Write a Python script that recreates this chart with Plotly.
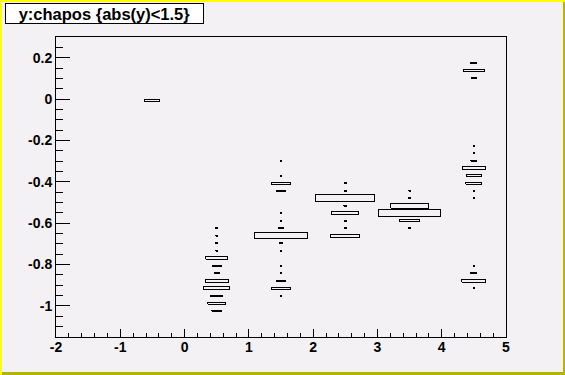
import math
import plotly.graph_objects as go

# ---------------- data (TH2 "box" histogram contents) ----------------
X_BIN = 1.0        # x bin width
Y_BIN = 0.03625    # y bin width
ZMAX = 1500        # histogram maximum used for box scaling

x_centers = [-0.5, 0.5, 1.5, 2.5, 3.5, 4.5]

y_m05 = [-0.008]
n_m05 = [82]

y_05 = [-0.624, -0.661, -0.697, -0.733, -0.769, -0.806, -0.842, -0.878, -0.914, -0.951, -0.987, -1.023]
n_05 = [1, 1, 1, 1, 180, 29, 9, 197, 251, 55, 121, 36]

y_15 = [-0.298, -0.371, -0.407, -0.443, -0.552, -0.588, -0.624, -0.661, -0.697, -0.733,
        -0.806, -0.842, -0.878, -0.914, -0.951]
n_15 = [1, 1, 141, 36, 1, 1, 13, 1046, 2, 1, 1, 1, 36, 141, 1]

y_25 = [-0.407, -0.443, -0.479, -0.516, -0.552, -0.588, -0.624, -0.661]
n_25 = [1, 1, 1250, 3, 259, 2, 1, 299]

y_35 = [-0.443, -0.479, -0.516, -0.552, -0.588, -0.624]
n_35 = [1, 2, 505, 1368, 135, 1]

y_45 = [0.173, 0.137, 0.101, -0.226, -0.262, -0.298, -0.334, -0.371, -0.407, -0.443, -0.479,
        -0.806, -0.842, -0.878, -0.914]
n_45 = [14, 155, 7, 1, 1, 12, 187, 78, 93, 1, 1, 1, 12, 209, 1]

columns_y = [y_m05, y_05, y_15, y_25, y_35, y_45]
columns_n = [n_m05, n_05, n_15, n_25, n_35, n_45]

y_tickvals = [0.2, 0, -0.2, -0.4, -0.6, -0.8, -1]
y_ticktext = ["0.2", "0", "-0.2", "-0.4", "-0.6", "-0.8", "-1"]
x_tickvals = [-2, -1, 0, 1, 2, 3, 4, 5]
x_ticktext = ["-2", "-1", "0", "1", "2", "3", "4", "5"]

title_text = "y:chapos {abs(y)<1.5}"

W, H = 565, 375
L, R, T, B = 56, 59, 37, 38
PW, PH = W - L - R, H - T - B
X_RANGE = [-2, 5]
Y_RANGE = [-1.15, 0.30]

# minimum drawn half-size of a box: half a pixel, in data units
MIN_HW = 0.5 * (X_RANGE[1] - X_RANGE[0]) / PW
MIN_HH = 0.5 * (Y_RANGE[1] - Y_RANGE[0]) / PH

# ---------------- build box outlines ----------------
bx, by = [], []
for xc, ys, ns in zip(x_centers, columns_y, columns_n):
    for yc, n in zip(ys, ns):
        r = math.sqrt(n / ZMAX)
        hw = max(0.5 * X_BIN * r, MIN_HW)
        hh = max(0.5 * Y_BIN * r, MIN_HH)
        bx += [xc - hw, xc + hw, xc + hw, xc - hw, xc - hw, None]
        by += [yc - hh, yc - hh, yc + hh, yc + hh, yc - hh, None]

fig = go.Figure()
fig.add_trace(go.Scatter(x=bx, y=by, mode="lines",
                         line=dict(color="black", width=1),
                         hoverinfo="skip", showlegend=False))


def px(xp):
    return (xp - L) / PW


def py(yp):
    return 1 - (yp - T) / PH


BG = "#f4f1f4"
YEL = "#ffff00"
OLV = "#b4b400"

shapes = [
    # bevel border of canvas
    dict(type="rect", xref="paper", yref="paper", x0=px(0), x1=px(W), y0=py(0), y1=py(2),
         fillcolor=YEL, line=dict(width=0), layer="above"),
    dict(type="rect", xref="paper", yref="paper", x0=px(0), x1=px(2), y0=py(0), y1=py(H),
         fillcolor=YEL, line=dict(width=0), layer="above"),
    dict(type="rect", xref="paper", yref="paper", x0=px(W - 2), x1=px(W), y0=py(2), y1=py(H),
         fillcolor=OLV, line=dict(width=0), layer="above"),
    dict(type="rect", xref="paper", yref="paper", x0=px(2), x1=px(W), y0=py(H - 3), y1=py(H),
         fillcolor=OLV, line=dict(width=0), layer="above"),
]

tickfont = dict(family="Arial, Liberation Sans", size=14, color="black", weight="bold")

fig.update_layout(
    width=W, height=H,
    margin=dict(l=L, r=R, t=T, b=B, pad=0),
    paper_bgcolor=BG, plot_bgcolor=BG,
    showlegend=False,
    shapes=shapes,
    xaxis=dict(range=X_RANGE, showgrid=False, zeroline=False,
               showline=True, linecolor="black", linewidth=1, mirror=True,
               ticks="inside", ticklen=8, tickcolor="black", tickwidth=1,
               tickmode="array", tickvals=x_tickvals, ticktext=x_ticktext,
               tickfont=tickfont, ticklabelstandoff=-3,
               minor=dict(ticks="inside", ticklen=4, tickcolor="black", tick0=0, dtick=0.2,
                          showgrid=False)),
    yaxis=dict(range=Y_RANGE, showgrid=False, zeroline=False,
               showline=True, linecolor="black", linewidth=1, mirror=True,
               ticks="inside", ticklen=14, tickcolor="black", tickwidth=1,
               tickmode="array", tickvals=y_tickvals, ticktext=y_ticktext,
               tickfont=tickfont,
               minor=dict(ticks="inside", ticklen=7, tickcolor="black", tick0=0, dtick=0.05,
                          showgrid=False)),
    annotations=[dict(
        text=title_text, xref="paper", yref="paper",
        x=px(5), y=py(2.5), xanchor="left", yanchor="top",
        showarrow=False, width=197, height=19, align="center", valign="middle",
        bgcolor="white", bordercolor="black", borderwidth=1, borderpad=0,
        font=dict(family="Arial, Liberation Sans", size=16.5, color="black", weight="bold"),
    )],
)

fig.write_html(
    "out.html",
    config={"displayModeBar": False, "staticPlot": True},
    post_script=(
        "document.body.style.margin='0';document.body.style.padding='0';"
        "document.querySelectorAll('.scatterlayer path').forEach(function(p){"
        "p.style.shapeRendering='crispEdges';});"
    ),
)
